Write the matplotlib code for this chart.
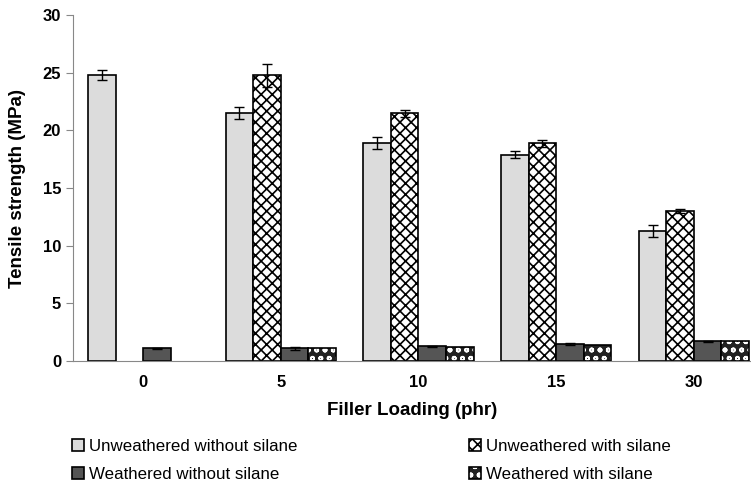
import matplotlib.pyplot as plt
import numpy as np

plt.rcParams['font.family'] = ['Liberation Sans', 'DejaVu Sans']
plt.rcParams['hatch.linewidth'] = 1.2

loading = ['0', '5', '10', '15', '30']
unw_no_silane = [24.8, 21.5, 18.9, 17.9, 11.3]
unw_no_silane_err = [0.4, 0.5, 0.5, 0.3, 0.5]
unw_silane = [np.nan, 24.8, 21.5, 18.9, 13.0]
unw_silane_err = [0, 1.0, 0.3, 0.3, 0.15]
wea_no_silane = [1.1, 1.1, 1.3, 1.5, 1.7]
wea_no_silane_err = [0.05, 0.1, 0.05, 0.08, 0.03]
wea_silane = [np.nan, 1.1, 1.2, 1.4, 1.7]

x = np.arange(len(loading))
w = 0.2

fig = plt.figure(figsize=(7.51, 4.86), dpi=100)
ax = fig.add_axes([0.097, 0.257, 0.903, 0.712])

ekw = dict(ecolor='black', elinewidth=1, capsize=3.5, capthick=1)
b1 = ax.bar(x - 1.5*w, unw_no_silane, w, yerr=unw_no_silane_err, color='#dcdcdc',
            edgecolor='black', linewidth=1.2, error_kw=ekw)
b2 = ax.bar(x - 0.5*w, unw_silane, w, yerr=unw_silane_err, color='white', hatch='xxx',
            edgecolor='black', linewidth=1.2, error_kw=ekw)
b3 = ax.bar(x + 0.5*w, wea_no_silane, w, yerr=wea_no_silane_err, color='#555555',
            edgecolor='black', linewidth=1.2, error_kw=ekw)
# weathered with silane: dark fill with white circles, then black outline
b4a = ax.bar(x + 1.5*w, wea_silane, w, color='#222222', hatch='oo', edgecolor='white', linewidth=0)
b4b = ax.bar(x + 1.5*w, wea_silane, w, fill=False, edgecolor='black', linewidth=1.2)

ax.set_xlim(-0.51, 4.415)
ax.set_ylim(0, 30)
ax.set_yticks([0, 5, 10, 15, 20, 25, 30])
ax.set_xticks(x)
ax.set_xticklabels(loading)
for s in ['top', 'right']:
    ax.spines[s].set_visible(False)
ax.spines['left'].set_color('#888888')
ax.spines['bottom'].set_color('#888888')
ax.tick_params(axis='y', colors='#888888', direction='out', length=5, labelcolor='black')
ax.tick_params(axis='x', length=0, pad=10)
for lab in ax.get_xticklabels() + ax.get_yticklabels():
    lab.set_fontsize(12)
    lab.set_fontweight('bold')

ax.set_xlabel('Filler Loading (phr)', fontsize=13.5, fontweight='bold', labelpad=9)
ax.set_ylabel('Tensile strength (MPa)', fontsize=13.5, fontweight='bold', labelpad=12)

fig.legend([b1, b3, b2, (b4a, b4b)],
           ['Unweathered without silane', 'Weathered without silane',
            'Unweathered with silane', 'Weathered with silane'],
           ncol=2, loc='upper left', bbox_to_anchor=(0.096, 0.096), frameon=False,
           fontsize=12.2, handlelength=0.7, handleheight=0.7, handletextpad=0.3,
           columnspacing=10.1, labelspacing=0.75, borderpad=0, borderaxespad=0)

fig.savefig('out.png', dpi=100)
